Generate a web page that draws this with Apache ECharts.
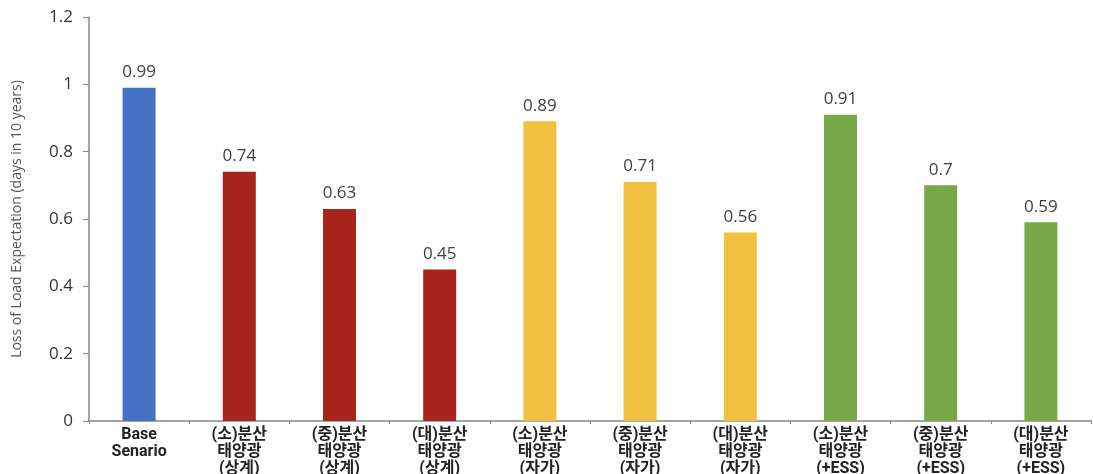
<!DOCTYPE html>
<html><head><meta charset="utf-8">
<script src="https://cdn.jsdelivr.net/npm/echarts@6/dist/echarts.min.js"></script>
<style>html,body{margin:0;padding:0;background:#fff}#c{width:1093px;height:474px}</style>
</head><body><div id="c"></div>
<script>
var categories = ["Base\nSenario","(소)분산\n태양광\n(상계)","(중)분산\n태양광\n(상계)","(대)분산\n태양광\n(상계)","(소)분산\n태양광\n(자가)","(중)분산\n태양광\n(자가)","(대)분산\n태양광\n(자가)","(소)분산\n태양광\n(+ESS)","(중)분산\n태양광\n(+ESS)","(대)분산\n태양광\n(+ESS)"];
var values = [0.99,0.74,0.63,0.45,0.89,0.71,0.56,0.91,0.70,0.59];
var barColors = ["#4472C4","#A9241B","#A9241B","#A9241B","#F3C140","#F3C140","#F3C140","#78A848","#78A848","#78A848"];
var yTicks = [0,0.2,0.4,0.6,0.8,1,1.2];
var chart = echarts.init(document.getElementById('c'));
chart.setOption({
  animation:false,
  grid:{left:89,right:2,top:17,bottom:53,outerBoundsMode:'none',containLabel:false},
  xAxis:{type:'category',data:categories,
    axisLine:{lineStyle:{color:'#888',width:1.5}},
    axisTick:{show:true,alignWithLabel:false,length:3,lineStyle:{color:'#888'}},
    axisLabel:{color:'#222',fontWeight:'bold',fontSize:16,lineHeight:17,margin:5,fontFamily:'Roboto, "Noto Sans CJK KR"',interval:0}},
  yAxis:{type:'value',min:0,max:1.2,interval:0.2,
    name:'Loss of Load Expectation (days in 10 years)',nameLocation:'middle',nameGap:65,
    nameTextStyle:{color:'#555',fontSize:14,fontFamily:'Open Sans'},
    axisLine:{show:true,lineStyle:{color:'#888',width:1.5}},
    axisTick:{show:true,length:6,lineStyle:{color:'#888'}},
    splitLine:{show:false},
    axisLabel:{color:'#333',fontSize:17,margin:16,fontFamily:'Open Sans',formatter:function(v){return String(+v.toFixed(1));}}},
  series:[{type:'bar',barWidth:33,
    data:values.map(function(v,i){return {value:v,itemStyle:{color:barColors[i]}};}),
    label:{show:true,position:'top',distance:7,color:'#404040',fontSize:17,fontFamily:'Open Sans'}}]
});
</script></body></html>
